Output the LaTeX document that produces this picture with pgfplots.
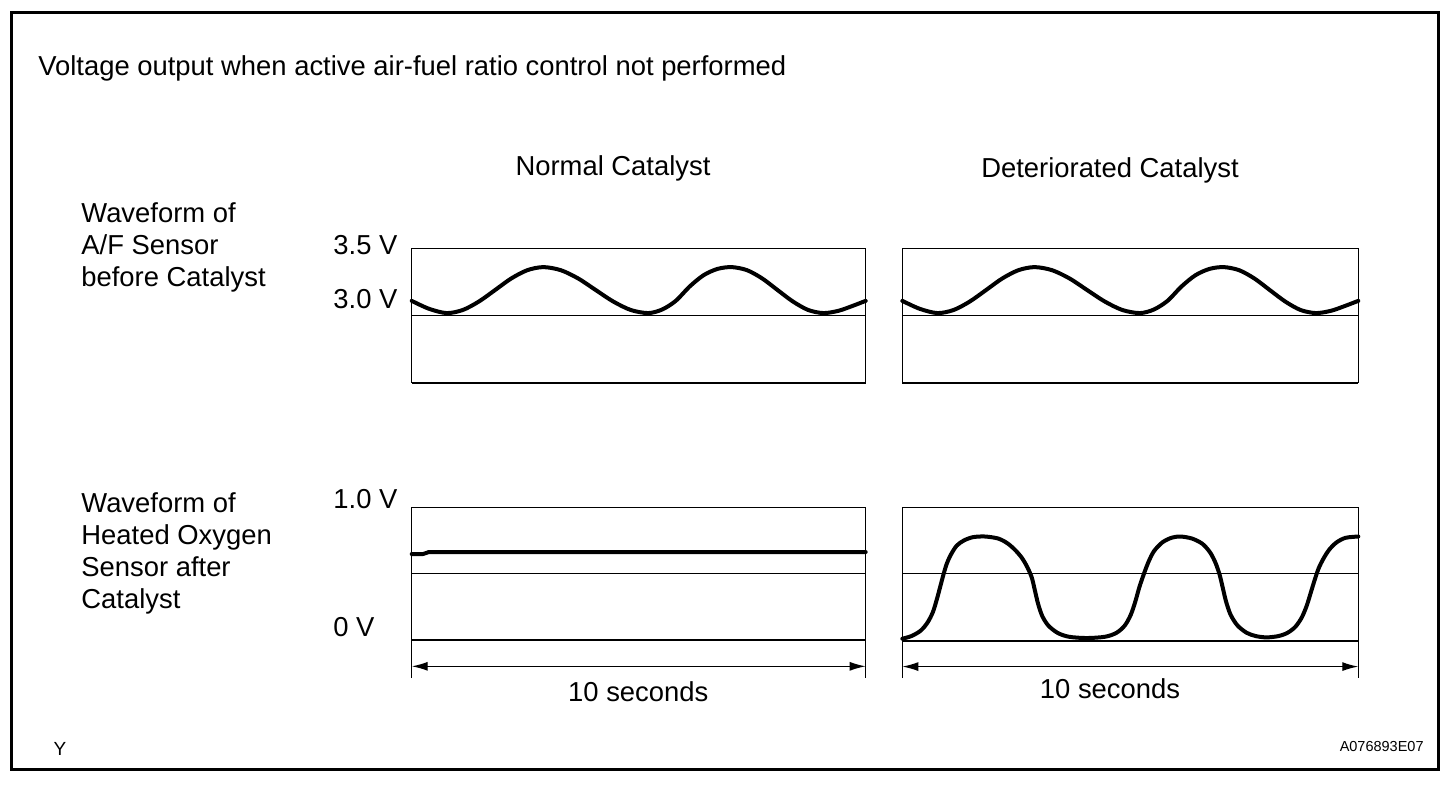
\documentclass[border=0pt]{standalone}
\usepackage{fontspec}
\setmainfont{Liberation Sans}
\usepackage{pgfplots}
\usepackage{pgfplotstable}
\pgfplotsset{compat=1.18}
\usetikzlibrary{arrows.meta}

% A/F sensor waveform (V) before catalyst
\pgfplotstableread{
t v
0     3.109
0.38  3.050
0.77  3.018
1.125 3.041
1.48  3.104
1.835 3.189
2.19  3.275
2.545 3.337
2.90  3.360
3.285 3.337
3.67  3.275
4.055 3.189
4.44  3.104
4.825 3.041
5.21  3.018
5.52  3.045
5.82  3.110
6.12  3.215
6.43  3.300
6.74  3.347
7.05  3.360
7.387 3.337
7.723 3.275
8.06  3.189
8.397 3.104
8.733 3.041
9.07  3.018
9.40  3.035
9.70  3.070
10    3.109
}\afdata

% Heated oxygen sensor, normal catalyst
\pgfplotstableread{
t v
0    0.648
0.25 0.648
0.38 0.663
10   0.663
}\honormal

% Heated oxygen sensor, deteriorated catalyst
\pgfplotstableread{
t v
0    0.010
0.20 0.030
0.40 0.070
0.55 0.130
0.67 0.210
0.76 0.310
0.83 0.400
0.90 0.490
0.97 0.570
1.06 0.640
1.19 0.710
1.35 0.750
1.55 0.775
1.81 0.780
2.10 0.765
2.30 0.730
2.47 0.680
2.62 0.620
2.74 0.550
2.84 0.470
2.91 0.370
2.98 0.270
3.07 0.180
3.20 0.110
3.40 0.055
3.65 0.025
4.04 0.015
4.45 0.025
4.70 0.055
4.88 0.110
5.01 0.190
5.11 0.290
5.20 0.400
5.30 0.500
5.40 0.590
5.52 0.670
5.70 0.735
5.90 0.770
6.09 0.780
6.35 0.765
6.58 0.725
6.75 0.660
6.87 0.580
6.96 0.490
7.03 0.390
7.10 0.290
7.20 0.190
7.35 0.110
7.55 0.055
7.75 0.030
7.99 0.020
8.25 0.030
8.45 0.055
8.62 0.100
8.76 0.170
8.87 0.260
8.96 0.360
9.05 0.460
9.13 0.540
9.23 0.610
9.36 0.680
9.52 0.735
9.72 0.770
10   0.780
}\hodet

\pgfplotsset{
  panel/.style={
    scale only axis, hide axis, clip=false,
    xmin=0, xmax=10, xtick=\empty, ytick=\empty,
  },
  toppanel/.style={panel, ymin=2.5, ymax=3.5, height=67.2pt},
  botpanel/.style={panel, ymin=-0.286, ymax=1.0, height=85.35pt},
}
\tikzset{thinln/.style={line width=0.65pt}, wave/.style={line width=2pt, line join=round, line cap=round}}

\begin{document}
\begin{tikzpicture}[x=0.5pt,y=0.5pt,font=\fontsize{13.7}{16}\selectfont]
\path[use as bounding box] (0,0) rectangle (1456,788);
\draw[line width=1.5pt] (11.5,18.5) rectangle (1438,775);

\coordinate (TL) at (411.7,405.3);
\coordinate (TR) at (902.3,405.3);
\coordinate (BL) at (411.7,110);
\coordinate (BR) at (902.3,110);

% texts
\node[anchor=base west, inner sep=0] at (38,712) {Voltage output when active air-fuel ratio control not performed};
\node[anchor=base, inner sep=0] at (613,612) {Normal Catalyst};
\node[anchor=base, inner sep=0] at (1110,610) {Deteriorated Catalyst};

\node[anchor=base west, inner sep=0] at (81,565) {Waveform of};
\node[anchor=base west, inner sep=0] at (81,533) {A/F Sensor};
\node[anchor=base west, inner sep=0] at (81,501) {before Catalyst};

\node[anchor=base west, inner sep=0] at (81,276) {Waveform of};
\node[anchor=base west, inner sep=0] at (81,244) {Heated Oxygen};
\node[anchor=base west, inner sep=0] at (81,212) {Sensor after};
\node[anchor=base west, inner sep=0] at (81,180) {Catalyst};

\node[anchor=base west, inner sep=0] at (333,533.7) {3.5 V};
\node[anchor=base west, inner sep=0] at (333,479.7) {3.0 V};
\node[anchor=base west, inner sep=0] at (333,279.7) {1.0 V};
\node[anchor=base west, inner sep=0] at (333,151.3) {0 V};

\node[anchor=base, inner sep=0] at (638.3,86.3) {10 seconds};
\node[anchor=base, inner sep=0] at (1110,89.7) {10 seconds};

\node[anchor=base, inner sep=0, font=\fontsize{9.5}{10}\selectfont] at (60,33) {Y};
\node[anchor=base east, inner sep=0, font=\fontsize{7.25}{8}\selectfont] at (1424,36.3) {A076893E07};

% top-left
\begin{axis}[toppanel, width=227pt, at={(TL)}, anchor=south west]
  \draw[thinln] (axis cs:0,2.5) rectangle (axis cs:10,3.5);
  \draw[line width=1pt] (axis cs:0,2.5) -- (axis cs:10,2.5);
  \addplot[thinln, black] coordinates {(0,3.0) (10,3.0)};
  \addplot[wave, black, smooth] table[x=t, y=v] {\afdata};
\end{axis}

% top-right
\begin{axis}[toppanel, width=228pt, at={(TR)}, anchor=south west]
  \draw[thinln] (axis cs:0,2.5) rectangle (axis cs:10,3.5);
  \draw[line width=1pt] (axis cs:0,2.5) -- (axis cs:10,2.5);
  \addplot[thinln, black] coordinates {(0,3.0) (10,3.0)};
  \addplot[wave, black, smooth] table[x=t, y=v] {\afdata};
\end{axis}

% bottom-left
\begin{axis}[botpanel, width=227pt, at={(BL)}, anchor=south west]
  \draw[thinln] (axis cs:0,-0.286) -- (axis cs:0,1) -- (axis cs:10,1) -- (axis cs:10,-0.286);
  \addplot[thinln, black] coordinates {(0,0.5) (10,0.5)};
  \addplot[thinln, black] coordinates {(0,0) (10,0)};
  \draw[thinln, {Latex[length=8pt,width=4.5pt]}-{Latex[length=8pt,width=4.5pt]}] (axis cs:0,-0.198) -- (axis cs:10,-0.198);
  \addplot[wave, black] table[x=t, y=v] {\honormal};
\end{axis}

% bottom-right
\begin{axis}[botpanel, width=228pt, at={(BR)}, anchor=south west]
  \draw[thinln] (axis cs:0,-0.286) -- (axis cs:0,1) -- (axis cs:10,1) -- (axis cs:10,-0.286);
  \addplot[thinln, black] coordinates {(0,0.5) (10,0.5)};
  \addplot[thinln, black] coordinates {(0,-0.008) (10,-0.008)};
  \draw[thinln, {Latex[length=8pt,width=4.5pt]}-{Latex[length=8pt,width=4.5pt]}] (axis cs:0,-0.2) -- (axis cs:10,-0.2);
  \addplot[wave, black, smooth] table[x=t, y=v] {\hodet};
\end{axis}
\end{tikzpicture}
\end{document}
